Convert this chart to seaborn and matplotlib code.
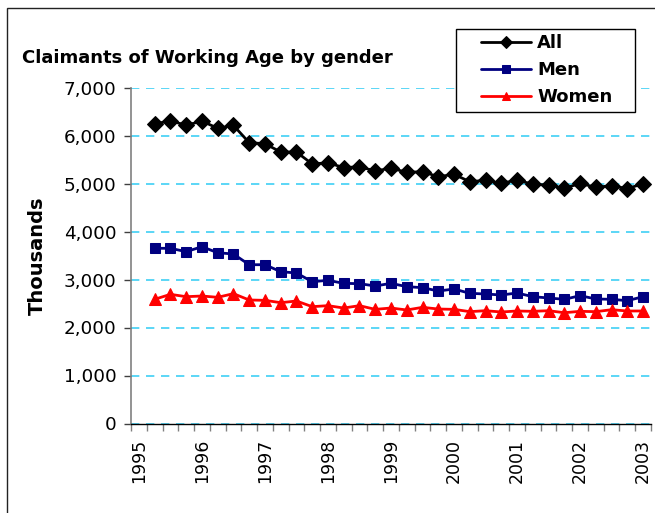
import numpy as np
import pandas as pd
import matplotlib
matplotlib.use("Agg")
import matplotlib.pyplot as plt
import matplotlib.ticker as mticker
from matplotlib.patches import Rectangle
import seaborn as sns

# Quarterly claimant counts (thousands); category 0 ("1995") has no data
year_labels = ["1995", "1996", "1997", "1998", "1999", "2000", "2001", "2002", "2003"]
quarters = list(range(1, 33))

all_claimants = [6240, 6308, 6212, 6302, 6150, 6212, 5850, 5830,
                 5656, 5656, 5406, 5433, 5330, 5350, 5260, 5320,
                 5233, 5246, 5142, 5191, 5038, 5066, 5003, 5073,
                 4983, 4969, 4899, 5003, 4920, 4955, 4893, 4996]
men = [3650, 3650, 3580, 3683, 3558, 3531, 3308, 3308,
       3163, 3135, 2954, 2983, 2920, 2913, 2865, 2920,
       2851, 2830, 2760, 2802, 2712, 2698, 2677, 2719,
       2642, 2615, 2587, 2663, 2594, 2587, 2559, 2642]
women = [2587, 2691, 2642, 2656, 2629, 2705, 2573, 2566,
         2517, 2552, 2434, 2455, 2406, 2455, 2378, 2406,
         2365, 2420, 2385, 2378, 2330, 2350, 2323, 2344,
         2337, 2350, 2308, 2337, 2330, 2371, 2344, 2344]

sns.set_style("white")
plt.rcParams["font.family"] = ["DejaVu Sans"]
plt.rcParams["text.color"] = "black"
plt.rcParams["axes.labelcolor"] = "black"
plt.rcParams["xtick.color"] = "black"
plt.rcParams["ytick.color"] = "black"

W, H = 655, 513
fig = plt.figure(figsize=(6.55, 5.13), dpi=100)
ax = fig.add_axes([131 / W, 1 - 423.5 / H, 520 / W, 336 / H])

series = [
    ("All", all_claimants, "black", "D", 8.5),
    ("Men", men, "#000080", "s", 7.5),
    ("Women", women, "red", "^", 8.5),
]
for name, vals, col, mk, ms in series:
    df = pd.DataFrame({"quarter": quarters, "value": vals})
    sns.lineplot(data=df, x="quarter", y="value", ax=ax, color=col, marker=mk,
                 markersize=ms, markeredgecolor=col, linewidth=2, label=name,
                 zorder=3)

ax.set_xlim(-0.5, 32.5)
ax.set_ylim(0, 7000)

# gridlines
ax.yaxis.set_major_locator(mticker.MultipleLocator(1000))
ax.yaxis.set_major_formatter(mticker.FuncFormatter(lambda v, p: f"{int(v):,}"))
ax.grid(axis="y", color="#3fcff5", linestyle=(0, (5, 4)), linewidth=1.2, zorder=0)
ax.grid(axis="x", visible=False)

# x axis: labels every 4 categories, tick marks on category boundaries
ax.set_xticks(range(0, 33, 4))
ax.set_xticklabels(year_labels, rotation=90, fontsize=12.5)
ax.set_xticks(np.arange(-0.5, 33, 1), minor=True)
ax.tick_params(axis="x", which="major", length=0, pad=11)
ax.tick_params(axis="x", which="minor", length=5, width=1, color="#808080", direction="out")
ax.tick_params(axis="y", which="major", length=5, width=1, color="#404040",
               direction="out", labelsize=13.2, pad=5.5)
ax.tick_params(bottom=True, left=True, which="both")

for s in ["top", "right"]:
    ax.spines[s].set_visible(False)
ax.spines["left"].set_color("#808080")
ax.spines["left"].set_linewidth(1.2)
ax.spines["bottom"].set_color("black")
ax.spines["bottom"].set_linewidth(1)

ax.set_xlabel("")
ax.set_ylabel("Thousands", fontsize=14, fontweight="bold")
ax.yaxis.set_label_coords(-0.1615, 0.5)

# legend content without frame; frame drawn separately to match the box
leg = ax.legend(loc="upper left", bbox_to_anchor=(481 / W, 1 - 34 / H),
                bbox_transform=fig.transFigure, frameon=False,
                prop={"size": 13, "weight": "bold"}, handlelength=2.78,
                handletextpad=0.33, labelspacing=0.5, borderpad=0,
                borderaxespad=0)
leg.set_zorder(6)
for line in leg.get_lines():
    line.set_markersize(6)
ax.add_patch(Rectangle((456 / W, 1 - 112 / H), 179 / W, 83 / H, transform=fig.transFigure,
                       facecolor="white", edgecolor="black", linewidth=1,
                       clip_on=False, zorder=5))

fig.text(22 / W, 1 - 58 / H, "Claimants of Working Age by gender",
         fontsize=13, fontweight="bold", va="center", ha="left")

# chart area border (left and top visible)
fig.add_artist(Rectangle((7 / W, -0.1), 1.2, 1.1 - 8 / H, transform=fig.transFigure,
                         fill=False, edgecolor="#222222", linewidth=1))

fig.savefig("out.png", dpi=100)
